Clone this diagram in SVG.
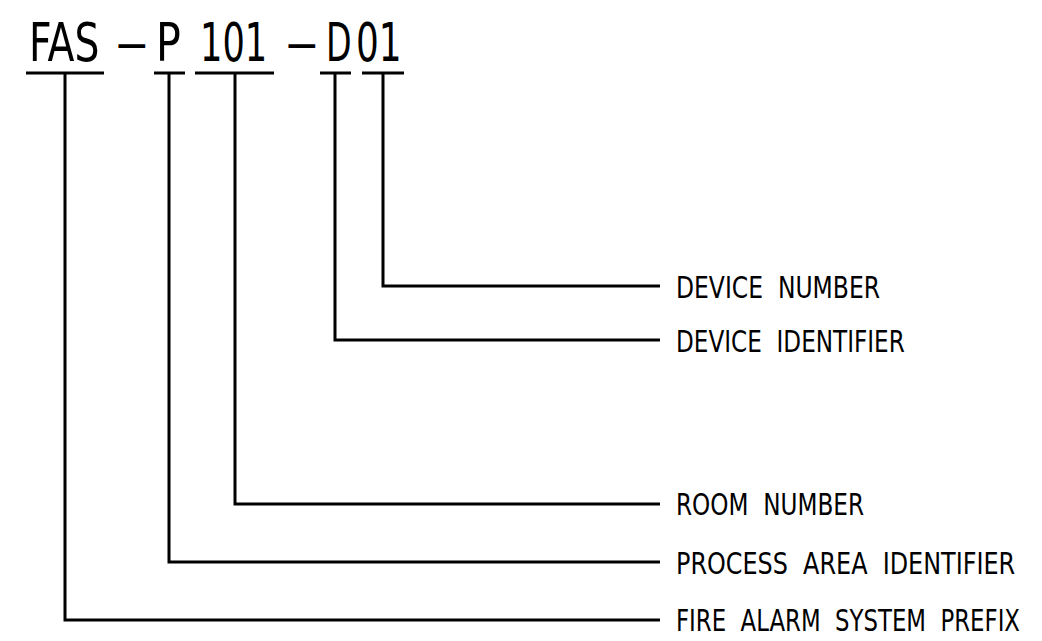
<svg xmlns="http://www.w3.org/2000/svg" width="1042" height="641" viewBox="0 0 1042 641">
  <style>
    .bg { fill: #ffffff; }
    .ln { fill: none; stroke: #000; stroke-width: 3; stroke-linejoin: miter; stroke-linecap: butt; }
    .code { font-family: "DejaVu Sans Condensed", "Liberation Sans", Arial, sans-serif; font-stretch: condensed; font-size: 54px; fill: #000; }
    .lbl { font-family: "DejaVu Sans Condensed", "Liberation Sans", Arial, sans-serif; font-stretch: condensed; font-size: 30px; fill: #000; white-space: pre; }
  </style>
  <rect class="bg" x="0" y="0" width="1042" height="641"/>

  <g id="code">
    <text class="code" transform="translate(29,61) scale(0.8,1)" textLength="88" lengthAdjust="spacingAndGlyphs">FAS</text>
    <text class="code" transform="translate(117,61) scale(0.8,1)" textLength="37" lengthAdjust="spacingAndGlyphs">—</text>
    <text class="code" transform="translate(156,61) scale(0.8,1)" textLength="31" lengthAdjust="spacingAndGlyphs">P</text>
    <text class="code" transform="translate(200,61) scale(0.8,1)" textLength="84" lengthAdjust="spacingAndGlyphs">101</text>
    <text class="code" transform="translate(287,61) scale(0.8,1)" textLength="37" lengthAdjust="spacingAndGlyphs">—</text>
    <text class="code" transform="translate(326,61) scale(0.8,1)" textLength="32" lengthAdjust="spacingAndGlyphs">D</text>
    <text class="code" transform="translate(356,61) scale(0.8,1)" textLength="57" lengthAdjust="spacingAndGlyphs">01</text>
  </g>

  <g id="underlines">
    <line class="ln" x1="26" y1="73" x2="104" y2="73"/>
    <line class="ln" x1="154" y1="73" x2="185" y2="73"/>
    <line class="ln" x1="195" y1="73" x2="274" y2="73"/>
    <line class="ln" x1="320" y1="73" x2="351" y2="73"/>
    <line class="ln" x1="362" y1="73" x2="404" y2="73"/>
  </g>

  <g id="connectors">
    <path class="ln" d="M65 73 V620 H660"/>
    <path class="ln" d="M169 73 V562 H660"/>
    <path class="ln" d="M235 73 V504 H660"/>
    <path class="ln" d="M335 73 V340 H660"/>
    <path class="ln" d="M383 73 V286 H660"/>
  </g>

  <g id="label-device-number">
    <text class="lbl" transform="translate(676,298) scale(0.8,1)" textLength="255" lengthAdjust="spacingAndGlyphs" xml:space="preserve">DEVICE  NUMBER</text>
  </g>
  <g id="label-device-identifier">
    <text class="lbl" transform="translate(676,352) scale(0.8,1)" textLength="286" lengthAdjust="spacingAndGlyphs" xml:space="preserve">DEVICE  IDENTIFIER</text>
  </g>
  <g id="label-room-number">
    <text class="lbl" transform="translate(676,515) scale(0.8,1)" textLength="235" lengthAdjust="spacingAndGlyphs" xml:space="preserve">ROOM  NUMBER</text>
  </g>
  <g id="label-process-area">
    <text class="lbl" transform="translate(676,574) scale(0.8,1)" textLength="424" lengthAdjust="spacingAndGlyphs" xml:space="preserve">PROCESS  AREA  IDENTIFIER</text>
  </g>
  <g id="label-fas-prefix">
    <text class="lbl" transform="translate(676,631) scale(0.8,1)" textLength="430" lengthAdjust="spacingAndGlyphs" xml:space="preserve">FIRE  ALARM  SYSTEM  PREFIX</text>
  </g>
</svg>
